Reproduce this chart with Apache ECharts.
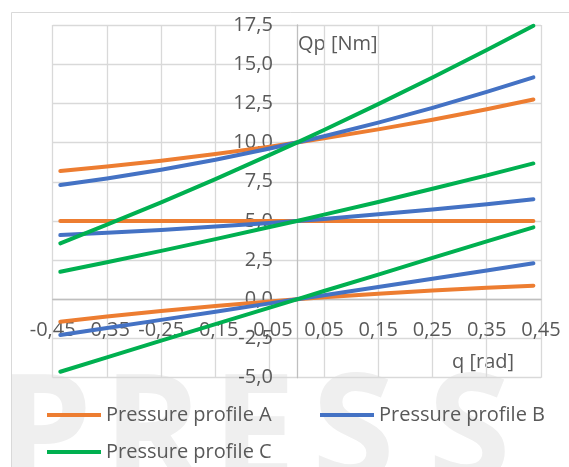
<!DOCTYPE html>
<html>
<head>
<meta charset="utf-8">
<script src="https://cdn.jsdelivr.net/npm/echarts@6/dist/echarts.min.js"></script>
<style>
  html, body { margin: 0; padding: 0; background: #ffffff; }
  #chart { width: 569px; height: 467px; }
</style>
</head>
<body>
<div id="chart"></div>
<script>
// Joint angle q [rad]
const q = [-0.436, -0.35, -0.25, -0.15, -0.05, 0, 0.05, 0.15, 0.25, 0.35, 0.436];

// Pressure torque Qp [Nm], three pressure levels for each profile
const profileA_high = [8.18, 8.47, 8.84, 9.27, 9.74, 10, 10.27, 10.84, 11.46, 12.13, 12.75];
const profileA_mid  = [5.00, 5.00, 5.00, 5.00, 5.00, 5, 5.00, 5.00, 5.00, 5.00, 5.00];
const profileA_low  = [-1.43, -1.10, -0.75, -0.43, -0.14, 0, 0.13, 0.36, 0.57, 0.74, 0.87];

const profileB_high = [7.29, 7.71, 8.27, 8.90, 9.62, 10, 10.40, 11.27, 12.21, 13.23, 14.16];
const profileB_mid  = [4.10, 4.24, 4.43, 4.64, 4.87, 5, 5.13, 5.42, 5.73, 6.07, 6.38];
const profileB_low  = [-2.28, -1.83, -1.31, -0.79, -0.26, 0, 0.26, 0.79, 1.31, 1.84, 2.30];

const profileC_high = [3.57, 4.76, 6.19, 7.67, 9.21, 10, 10.80, 12.45, 14.15, 15.90, 17.45];
const profileC_mid  = [1.76, 2.37, 3.09, 3.84, 4.61, 5, 5.40, 6.21, 7.05, 7.91, 8.67];
const profileC_low  = [-4.62, -3.70, -2.64, -1.58, -0.53, 0, 0.53, 1.58, 2.64, 3.70, 4.59];

const seriesNames = ['Pressure profile A', 'Pressure profile B', 'Pressure profile C'];
const seriesColors = ['#ED7D31', '#4472C4', '#00B050'];
const profiles = [
  [profileA_high, profileA_mid, profileA_low],
  [profileB_high, profileB_mid, profileB_low],
  [profileC_high, profileC_mid, profileC_low]
];

const FONT = '"Open Sans", Lato, sans-serif';
const TEXT_COLOR = '#595959';
const FONT_SIZE = 20;

// Plot area in pixels; the axes cross at (0, 0) inside it
const GRID = { left: 52.7, right: 28, top: 25, bottom: 89.3 };
const X_MIN = -0.45, X_MAX = 0.45, Y_MIN = -5, Y_MAX = 17.5;
const plotW = 569 - GRID.left - GRID.right;
const plotH = 467 - GRID.top - GRID.bottom;
// shift of each axis from the plot edge to the zero line
const yAxisShift = (0 - X_MIN) / (X_MAX - X_MIN) * plotW;
const xAxisShift = (0 - Y_MIN) / (Y_MAX - Y_MIN) * plotH;

const pair = (ys) => q.map((x, i) => [x, ys[i]]);
const comma = (v, d) => v.toFixed(d).replace('.', ',');

const series = [];
profiles.forEach((curves, p) => {
  curves.forEach((ys) => {
    series.push({
      name: seriesNames[p],
      type: 'line',
      data: pair(ys),
      showSymbol: false,
      symbol: 'none',
      smooth: false,
      lineStyle: { color: seriesColors[p], width: 4, cap: 'round', join: 'round' },
      itemStyle: { color: seriesColors[p] },
      z: 3
    });
  });
});

const legendBase = {
  icon: 'rect',
  itemWidth: 54,
  itemHeight: 4,
  itemGap: 0,
  padding: 0,
  selectedMode: false,
  textStyle: { color: TEXT_COLOR, fontFamily: FONT, fontSize: FONT_SIZE, lineHeight: 22 }
};

// faint publisher mark behind the lower part of the chart
const markLetters = [['P', -2], ['R', 103], ['E', 212], ['S', 312], ['S', 428]];
const watermark = markLetters.map(([ch, x]) => ({
  type: 'text', left: x, top: 364, z: -20, silent: true,
  style: { text: ch, fill: '#efefef', font: 'bold 150px "Open Sans", sans-serif' }
}));

const chart = echarts.init(document.getElementById('chart'), null, { renderer: 'canvas' });
chart.setOption({
  backgroundColor: '#ffffff',
  animation: false,
  grid: Object.assign({ containLabel: false, outerBoundsMode: 'none' }, GRID),
  xAxis: {
    type: 'value',
    position: 'bottom',
    offset: -xAxisShift,
    min: X_MIN,
    max: X_MAX,
    interval: 0.1,
    axisLine: { show: true, onZero: false, lineStyle: { color: '#bfbfbf', width: 1.3 } },
    axisTick: { show: false },
    splitLine: { show: true, lineStyle: { color: '#d9d9d9', width: 1.3 } },
    axisLabel: {
      color: TEXT_COLOR, fontFamily: FONT, fontSize: FONT_SIZE, lineHeight: 20, margin: 21,
      showMinLabel: true, showMaxLabel: true, hideOverlap: false,
      formatter: (v) => comma(v, 2)
    }
  },
  yAxis: {
    type: 'value',
    position: 'left',
    offset: -yAxisShift,
    min: Y_MIN,
    max: Y_MAX,
    interval: 2.5,
    axisLine: { show: true, onZero: false, lineStyle: { color: '#bfbfbf', width: 1.3 } },
    axisTick: { show: false },
    splitLine: { show: true, lineStyle: { color: '#d9d9d9', width: 1.3 } },
    axisLabel: {
      color: TEXT_COLOR, fontFamily: FONT, fontSize: FONT_SIZE, margin: 24,
      showMinLabel: true, showMaxLabel: true, hideOverlap: false,
      formatter: (v) => comma(v, 1)
    }
  },
  legend: [
    Object.assign({}, legendBase, { data: [seriesNames[0]], left: 47, top: 404 }),
    Object.assign({}, legendBase, { data: [seriesNames[1]], left: 320, top: 404 }),
    Object.assign({}, legendBase, { data: [seriesNames[2]], left: 47, top: 441 })
  ],
  graphic: watermark.concat([
    {
      type: 'rect', z: -10, silent: true,
      shape: { x: 11.5, y: 12.5, width: 600, height: 500 },
      style: { fill: 'none', stroke: '#d9d9d9', lineWidth: 1 }
    },
    {
      type: 'text', left: 298, top: 34, silent: true,
      style: { text: 'Qp [Nm]', fill: TEXT_COLOR, font: FONT_SIZE + 'px ' + FONT }
    },
    {
      type: 'text', left: 452, top: 352, silent: true,
      style: { text: 'q [rad]', fill: TEXT_COLOR, font: FONT_SIZE + 'px ' + FONT }
    }
  ]),
  series: series
});
</script>
</body>
</html>
